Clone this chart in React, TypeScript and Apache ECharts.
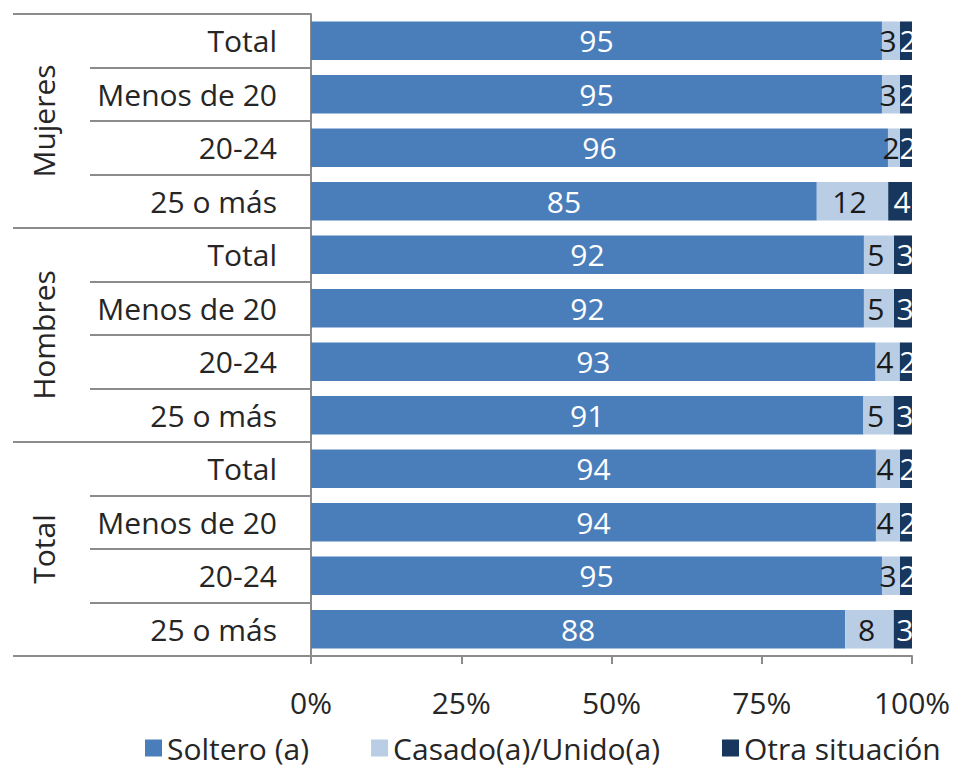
import React, { useEffect, useRef } from "react";
import * as echarts from "echarts";

const groups = ["Mujeres", "Hombres", "Total"];
const subgroups = ["Total", "Menos de 20", "20-24", "25 o más"];
const soltero = [95, 95, 96, 85, 92, 92, 93, 91, 94, 94, 95, 88];
const casado = [3, 3, 2, 12, 5, 5, 4, 5, 4, 4, 3, 8];
const otra = [2, 2, 2, 4, 3, 3, 2, 3, 2, 2, 2, 3];
const seriesNames = ["Soltero (a)", "Casado(a)/Unido(a)", "Otra situación"];
const xTicks = [0, 25, 50, 75, 100];

const FONT = "Open Sans";
const TXT = "#262626";
const GRAY = "#8c8c8c";

export default function App() {
  const ref = useRef<HTMLDivElement>(null);
  useEffect(() => {
    if (!ref.current) return;
    const chart = echarts.init(ref.current, undefined, { renderer: "svg" });
    const categories = groups.flatMap((g) => subgroups.map((s) => g + "|" + s));
    const totals = soltero.map((v, i) => v + casado[i] + otra[i]);
    const pct = (arr: number[]) => arr.map((v, i) => (v / totals[i]) * 100);
    const raw = [soltero, casado, otra];
    const colors = ["#4A7EBB", "#B9CDE5", "#17375E"];
    const labelColors = ["#ffffff", "#1a1a1a", "#ffffff"];
    const labelOffsets = [[0, 0], [-3, 0], [2, 0]];
    const gridPos = { left: 311, right: 44, top: 14, bottom: 111 };

    chart.setOption({
      animation: false,
      textStyle: { fontFamily: FONT },
      grid: [{ ...gridPos }, { ...gridPos }],
      legend: {
        left: 140,
        bottom: -1,
        itemWidth: 17,
        itemHeight: 17,
        itemGap: 62,
        icon: "rect",
        textStyle: { fontSize: 30, color: TXT, fontFamily: FONT },
        data: seriesNames,
      },
      xAxis: [
        {
          type: "value",
          gridIndex: 0,
          min: 0,
          max: 100,
          interval: 25,
          axisLine: { show: true, lineStyle: { color: GRAY, width: 2 } },
          axisTick: { show: true, length: 8, lineStyle: { color: GRAY, width: 2 } },
          splitLine: { show: false },
          axisLabel: {
            formatter: (v: number) => (xTicks.includes(v) ? v + "%" : ""),
            fontSize: 30,
            color: TXT,
            margin: 31,
            fontFamily: FONT,
          },
        },
        { type: "value", gridIndex: 1, show: false, min: 0, max: 100 },
      ],
      yAxis: [
        {
          type: "category",
          gridIndex: 0,
          data: categories,
          inverse: true,
          axisLine: { show: true, lineStyle: { color: GRAY, width: 2 } },
          axisTick: { show: true, length: 221, lineStyle: { color: GRAY, width: 2 } },
          axisLabel: {
            formatter: (v: string) => v.split("|")[1],
            fontSize: 30,
            color: TXT,
            margin: 34,
            fontFamily: FONT,
          },
        },
        {
          type: "category",
          gridIndex: 1,
          data: groups,
          inverse: true,
          axisLine: { show: false },
          axisTick: { show: true, length: 298, lineStyle: { color: GRAY, width: 2 } },
          axisLabel: {
            rotate: 90,
            fontSize: 30,
            color: TXT,
            margin: 253,
            fontFamily: FONT,
          },
        },
      ],
      series: raw.map((arr, k) => ({
        name: seriesNames[k],
        type: "bar",
        stack: "total",
        xAxisIndex: 0,
        yAxisIndex: 0,
        barCategoryGap: "28%",
        data: pct(arr),
        itemStyle: { color: colors[k] },
        label: {
          show: true,
          position: "inside",
          offset: labelOffsets[k],
          fontSize: 30,
          color: labelColors[k],
          fontFamily: FONT,
          formatter: (p: any) => String(arr[p.dataIndex]),
        },
      })),
    });
    return () => chart.dispose();
  }, []);
  return (
    <div
      ref={ref}
      style={{ position: "fixed", left: 0, top: 0, width: 956, height: 767, background: "#fff" }}
    />
  );
}
